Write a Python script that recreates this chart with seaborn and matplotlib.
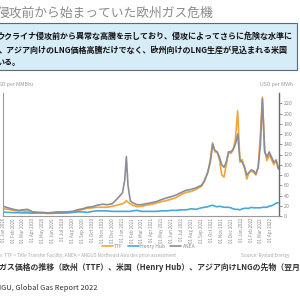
import pandas as pd
import matplotlib.pyplot as plt
import matplotlib.dates as mdates
import seaborn as sns

sns.set_style("white")
plt.rcParams["font.family"] = ["Noto Sans CJK JP", "DejaVu Sans"]

# Weekly-ish readings, USD per MWh
dates = [
    "2020-01-01", "2020-01-15", "2020-02-01", "2020-02-15", "2020-03-01", "2020-03-15",
    "2020-04-01", "2020-04-15", "2020-05-01", "2020-05-15", "2020-06-01", "2020-06-15",
    "2020-07-01", "2020-07-15", "2020-08-01", "2020-08-15", "2020-09-01", "2020-09-15",
    "2020-10-01", "2020-10-15", "2020-11-01", "2020-11-15", "2020-12-01", "2020-12-15",
    "2021-01-01", "2021-01-08", "2021-01-13", "2021-01-18", "2021-01-25", "2021-02-01",
    "2021-02-15", "2021-03-01", "2021-03-15", "2021-04-01", "2021-04-15", "2021-05-01",
    "2021-05-15", "2021-06-01", "2021-06-15", "2021-07-01", "2021-07-15", "2021-08-01",
    "2021-08-15", "2021-09-01", "2021-09-10", "2021-09-20", "2021-09-28", "2021-10-05",
    "2021-10-12", "2021-10-19", "2021-10-26", "2021-11-02", "2021-11-09", "2021-11-16",
    "2021-11-23", "2021-11-30", "2021-12-07", "2021-12-14", "2021-12-21", "2021-12-28",
    "2022-01-04", "2022-01-11", "2022-01-18", "2022-01-25", "2022-02-01", "2022-02-08",
    "2022-02-15", "2022-02-22", "2022-03-01", "2022-03-07", "2022-03-14", "2022-03-21",
    "2022-03-28", "2022-04-04", "2022-04-11", "2022-04-18", "2022-04-25",
]
ttf = [
    14, 13, 11, 10, 10, 9, 8, 7, 6, 5, 5, 6,
    6, 7, 8, 10, 13, 15, 16, 17, 17, 17, 19, 21,
    24, 26, 30, 27, 24, 21, 18, 19, 21, 23, 25, 28,
    30, 33, 36, 42, 46, 48, 52, 58, 70, 85, 110, 143,
    125, 125, 110, 80, 76, 100, 125, 122, 128, 150, 205, 105,
    110, 95, 72, 85, 88, 85, 80, 95, 160, 232, 128, 108,
    120, 110, 100, 110, 95,
]
henry_hub = [
    7.5, 7, 6.5, 6.5, 6, 6, 5.5, 6, 6, 6, 6, 5.5,
    6, 6, 7, 8, 8, 7, 9, 10, 10, 10, 9, 9,
    9, 9, 9, 9, 9, 10, 11, 9, 9, 9, 9, 10,
    10, 11, 11, 12, 12, 14, 13, 16, 17, 18, 20, 21,
    19, 18, 19, 18, 17, 17, 17, 16, 14, 13, 13, 12,
    14, 15, 15, 15, 17, 16, 16, 16, 16, 17, 17, 17,
    19, 20, 22, 25, 26,
]
anea = [
    19, 16, 13, 11, 12, 13, 8, 7, 7, 6, 7, 8,
    8, 8, 9, 12, 14, 17, 18, 21, 23, 22, 24, 33,
    45, 70, 116, 60, 30, 26, 22, 22, 24, 26, 28, 32,
    35, 38, 41, 46, 50, 52, 55, 60, 68, 85, 105, 140,
    128, 125, 115, 100, 95, 105, 125, 125, 130, 140, 160, 110,
    105, 95, 80, 85, 90, 88, 82, 95, 140, 228, 125, 115,
    125, 115, 105, 108, 92,
]
series_names = ["TTF", "Henry Hub", "ANEA"]
series_colors = ["#f2a43a", "#46a9d8", "#8b8d97"]
tick_months = pd.date_range("2020-01-01", "2022-04-01", freq="MS")

df = pd.DataFrame({"date": pd.to_datetime(dates), "TTF": ttf, "Henry Hub": henry_hub, "ANEA": anea})
long_df = df.melt(id_vars="date", var_name="series", value_name="price")

fig = plt.figure(figsize=(3, 3), dpi=100)
fig.patch.set_facecolor("white")

# header: title and highlighted box
fig.text(-0.012, 0.957, "侵攻前から始まっていた欧州ガス危機", fontsize=9.2, color="#8a8a8a", va="center")
box = plt.Rectangle((-0.02, 0.767), 1.01, 0.157, transform=fig.transFigure,
                    facecolor="#d6ecf7", edgecolor="#5a6a78", linewidth=0.8)
fig.patches.append(box)
fig.text(-0.012, 0.88, "ウクライナ侵攻前から異常な高騰を示しており、侵攻によってさらに危険な水準に",
         fontsize=5.8, fontweight="bold", color="#111111", va="center")
fig.text(-0.005, 0.833, "、アジア向けのLNG価格高騰だけでなく、欧州向けのLNG生産が見込まれる米国",
         fontsize=5.8, fontweight="bold", color="#111111", va="center")
fig.text(-0.012, 0.79, "いる。", fontsize=5.8, fontweight="bold", color="#111111", va="center")

fig.text(0.11, 0.717, "USD per MMBtu", fontsize=3.8, color="#9a9a9a", ha="right", va="center")
fig.text(0.977, 0.717, "USD per MWh", fontsize=3.8, color="#9a9a9a", ha="right", va="center")

ax = fig.add_axes([0.01, 0.28, 0.92, 0.41])
sns.lineplot(data=long_df, x="date", y="price", hue="series", hue_order=series_names,
             palette=series_colors, linewidth=1.2, ax=ax, legend=True)

ax.set_xlim(pd.Timestamp("2019-12-31"), pd.Timestamp("2022-04-27"))
ax.set_ylim(0, 240)
ax.set_xlabel("")
ax.set_ylabel("")
ax.yaxis.tick_right()
ax.set_yticks(range(0, 221, 20))
ax.tick_params(axis="y", labelsize=3.8, labelcolor="#8a8a8a", length=2, width=0.5, color="#666666", pad=1.5)
ax.set_xticks(tick_months)
ax.xaxis.set_major_formatter(mdates.DateFormatter("%d %b %Y"))
ax.tick_params(axis="x", labelsize=3.2, labelcolor="#8a8a8a", length=0, pad=1.5, labelrotation=90)
ax.spines["top"].set_visible(False)
ax.spines["left"].set_color("#9a9a9a")
ax.spines["left"].set_linewidth(0.8)
ax.spines["right"].set_color("#6a6a6a")
ax.spines["right"].set_linewidth(1.0)
ax.spines["bottom"].set_color("#9a9a9a")
ax.spines["bottom"].set_linewidth(0.8)

handles, labels = ax.get_legend_handles_labels()
ax.get_legend().remove()
fig.legend(handles, labels, loc="center", bbox_to_anchor=(0.495, 0.178), ncol=3, frameon=False,
           fontsize=3.6, labelcolor="#8a8a8a", handlelength=2.2, columnspacing=1.0, handletextpad=0.3)

# footnotes and caption
fig.text(-0.03, 0.148, "Note: TTF = Title Transfer Facility; ANEA = ARGUS Northeast Asia des price assessment",
         fontsize=3.4, color="#a8a8a8", va="center")
fig.text(0.965, 0.148, "Source: Rystad Energy", fontsize=3.4, color="#a8a8a8", ha="right", va="center")
fig.text(-0.003, 0.107, "ガス価格の推移（欧州（TTF）、米国（Henry Hub）、アジア向けLNGの先物（翌月）",
         fontsize=5.7, fontweight="bold", color="#333333", va="center")
fig.text(-0.003, 0.04, "IGU, Global Gas Report 2022", fontsize=5.4, color="#333333", va="center")

fig.savefig("out.png", dpi=100)
